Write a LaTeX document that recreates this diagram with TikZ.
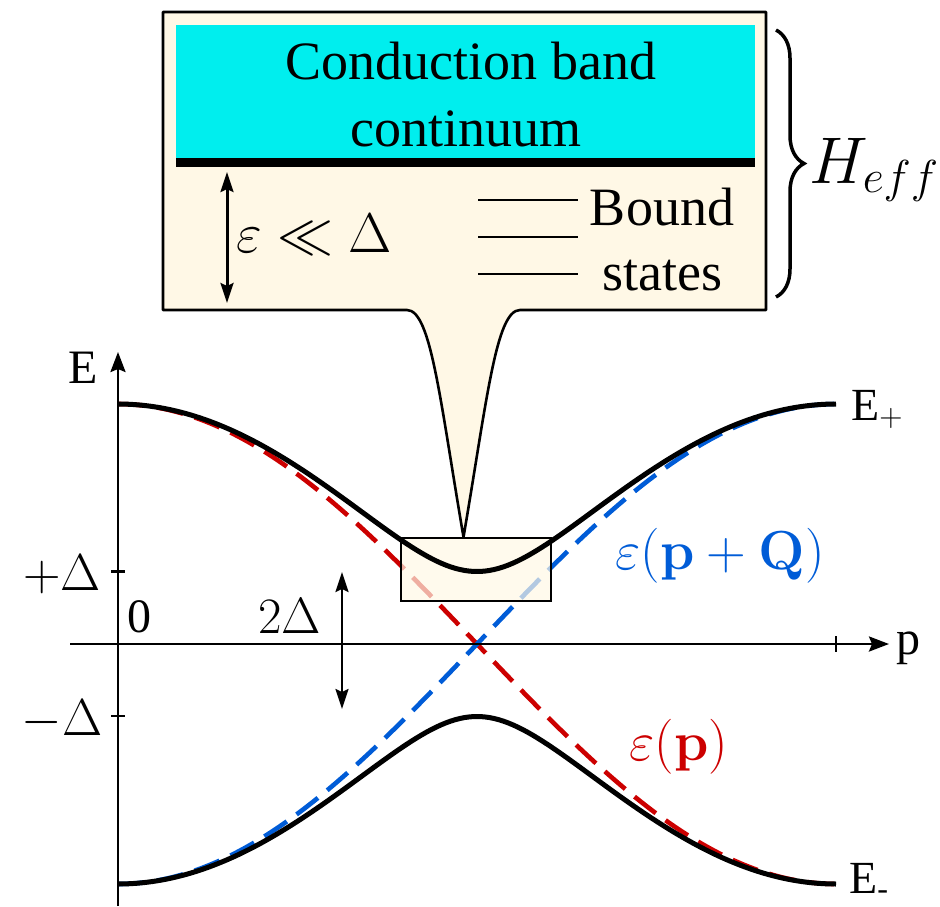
\documentclass[tikz,border=0pt]{standalone}
\usepackage{fix-cm}
\usepackage[no-math]{fontspec}
\setmainfont{Liberation Serif}
\newfontfamily\tnr{Liberation Serif}
\usetikzlibrary{arrows.meta,decorations.pathreplacing}
\definecolor{cream}{RGB}{255,248,230}
\definecolor{cbcyan}{RGB}{0,238,238}
\definecolor{dred}{RGB}{204,0,0}
\definecolor{dblue}{RGB}{0,92,215}
\tikzset{
  lbl/.style={inner sep=0pt, anchor=base},
  axisline/.style={line width=2.6pt, -{Stealth[length=20pt,width=15pt,inset=3pt]}},
  dbl/.style={line width=2.6pt, {Stealth[length=20pt,width=13pt,inset=3pt]}-{Stealth[length=20pt,width=13pt,inset=3pt]}},
  dashcurve/.style={line width=4.6pt, dash pattern=on 27pt off 12pt},
  bandcurve/.style={line width=5pt},
  levelline/.style={line width=2.4pt}
}
\begin{document}
\begin{tikzpicture}[x=1pt,y=-1pt]
\useasboundingbox (0,0) rectangle (940,906);
% ---------- lower plot ----------
% dashed bare bands
\draw[dashcurve, dred] plot[domain=0:180,samples=150] ({118+3.98889*\x},{644-240*cos(\x)});
\draw[dashcurve, dblue] plot[domain=0:180,samples=150] ({118+3.98889*\x},{644+240*cos(\x)});
% zoom window
\node[draw=black, line width=2pt, fill=cream, fill opacity=0.7, minimum width=150pt, minimum height=63pt, inner sep=0pt] (win) at (475.5,569.5) {};
% hybridised bands
\draw[bandcurve] plot[domain=0:180,samples=150] ({118+3.98889*\x},{644-100*sqrt((2.4*cos(\x))^2+(0.725*sin(\x))^2)});
\draw[bandcurve] plot[domain=0:180,samples=150] ({118+3.98889*\x},{644+100*sqrt((2.4*cos(\x))^2+(0.725*sin(\x))^2)});
% axes
\coordinate (ybot) at (118,906);
\coordinate (ytop) at (118,352);
\coordinate (xleft) at (70,644);
\coordinate (xright) at (889,644);
\draw[axisline] (ybot) -- (ytop);
\draw[axisline] (xleft) -- (xright);
\draw[line width=2.6pt] (111,571.5) -- (125,571.5);
\draw[line width=2.6pt] (111,716) -- (125,716);
\draw[line width=2.2pt] (836,636) -- (836,652);
% 2Delta arrow
\coordinate (ga) at (342,572);
\coordinate (gb) at (342,709);
\draw[dbl, line width=2.2pt] (ga) -- (gb);
% labels
\node[lbl, font=\tnr\fontsize{48}{50}\selectfont] (lE) at (83,383) {E};
\node[lbl, font=\tnr\fontsize{48}{50}\selectfont] (lp) at (908,654) {p};
\node[lbl, font=\tnr\fontsize{48}{50}\selectfont] (l0) at (139,632) {0};
\node[lbl, font=\fontsize{52}{54}\selectfont] (lpd) at (62,590) {$+\Delta$};
\node[lbl, font=\fontsize{52}{54}\selectfont] (lmd) at (62,735) {$-\Delta$};
\node[lbl, font=\fontsize{51}{54}\selectfont] (l2d) at (290,633) {$2\Delta$};
\node[lbl, anchor=base west, font=\tnr\fontsize{46}{50}\selectfont] (lEp) at (851,420) {E$_{+}$};
\node[lbl, anchor=base west, font=\tnr\fontsize{46}{50}\selectfont] (lEm) at (849,893) {E\textsubscript{-}};
\node[lbl, text=dblue, font=\fontsize{55}{58}\selectfont] (lpq) at (720,569) {$\varepsilon(\mathbf{p}+\mathbf{Q})$};
\node[lbl, text=dred, font=\fontsize{55}{58}\selectfont] (lpp) at (679,760) {$\varepsilon(\mathbf{p})$};
% ---------- callout ----------
\draw[line width=2.6pt, fill=cream, line join=round]
  (163,12) -- (766,12) -- (766,310) -- (520,310)
  .. controls (496,310) and (487,400) .. (463.5,537)
  .. controls (440,400) and (431,310) .. (407,310)
  -- (163,310) -- cycle;
\fill[cbcyan] (176,25) rectangle (755,158);
\draw[line width=9pt] (176,162) -- (755,162);
\node[lbl, font=\tnr\fontsize{54}{58}\selectfont] (cb1) at (471,79) {Conduction band};
\node[lbl, font=\tnr\fontsize{54}{58}\selectfont] (cb2) at (466,146) {continuum};
\coordinate (ea) at (227,172);
\coordinate (eb) at (227,303);
\draw[dbl, line width=3pt] (ea) -- (eb);
\node[lbl, anchor=base west, font=\fontsize{56}{60}\selectfont] (ell) at (236,252) {$\varepsilon\ll\Delta$};
\coordinate (b1a) at (478,200); \coordinate (b1b) at (578,200);
\coordinate (b2a) at (478,237); \coordinate (b2b) at (578,237);
\coordinate (b3a) at (478,274); \coordinate (b3b) at (578,274);
\draw[levelline] (b1a) -- (b1b);
\draw[levelline] (b2a) -- (b2b);
\draw[levelline] (b3a) -- (b3b);
\node[lbl, font=\tnr\fontsize{54}{58}\selectfont] (bs1) at (662,225) {Bound};
\node[lbl, font=\tnr\fontsize{54}{58}\selectfont] (bs2) at (662,290) {states};
% brace and H_eff
\coordinate (bra) at (776,30);
\coordinate (brb) at (776,297);
\draw[line width=3.5pt, decorate, decoration={brace, amplitude=28pt}] (bra) -- (brb);
\node[lbl, anchor=base west, font=\fontsize{66}{70}\selectfont] (heff) at (809,183) {$H_{eff}$};
\end{tikzpicture}
\end{document}
